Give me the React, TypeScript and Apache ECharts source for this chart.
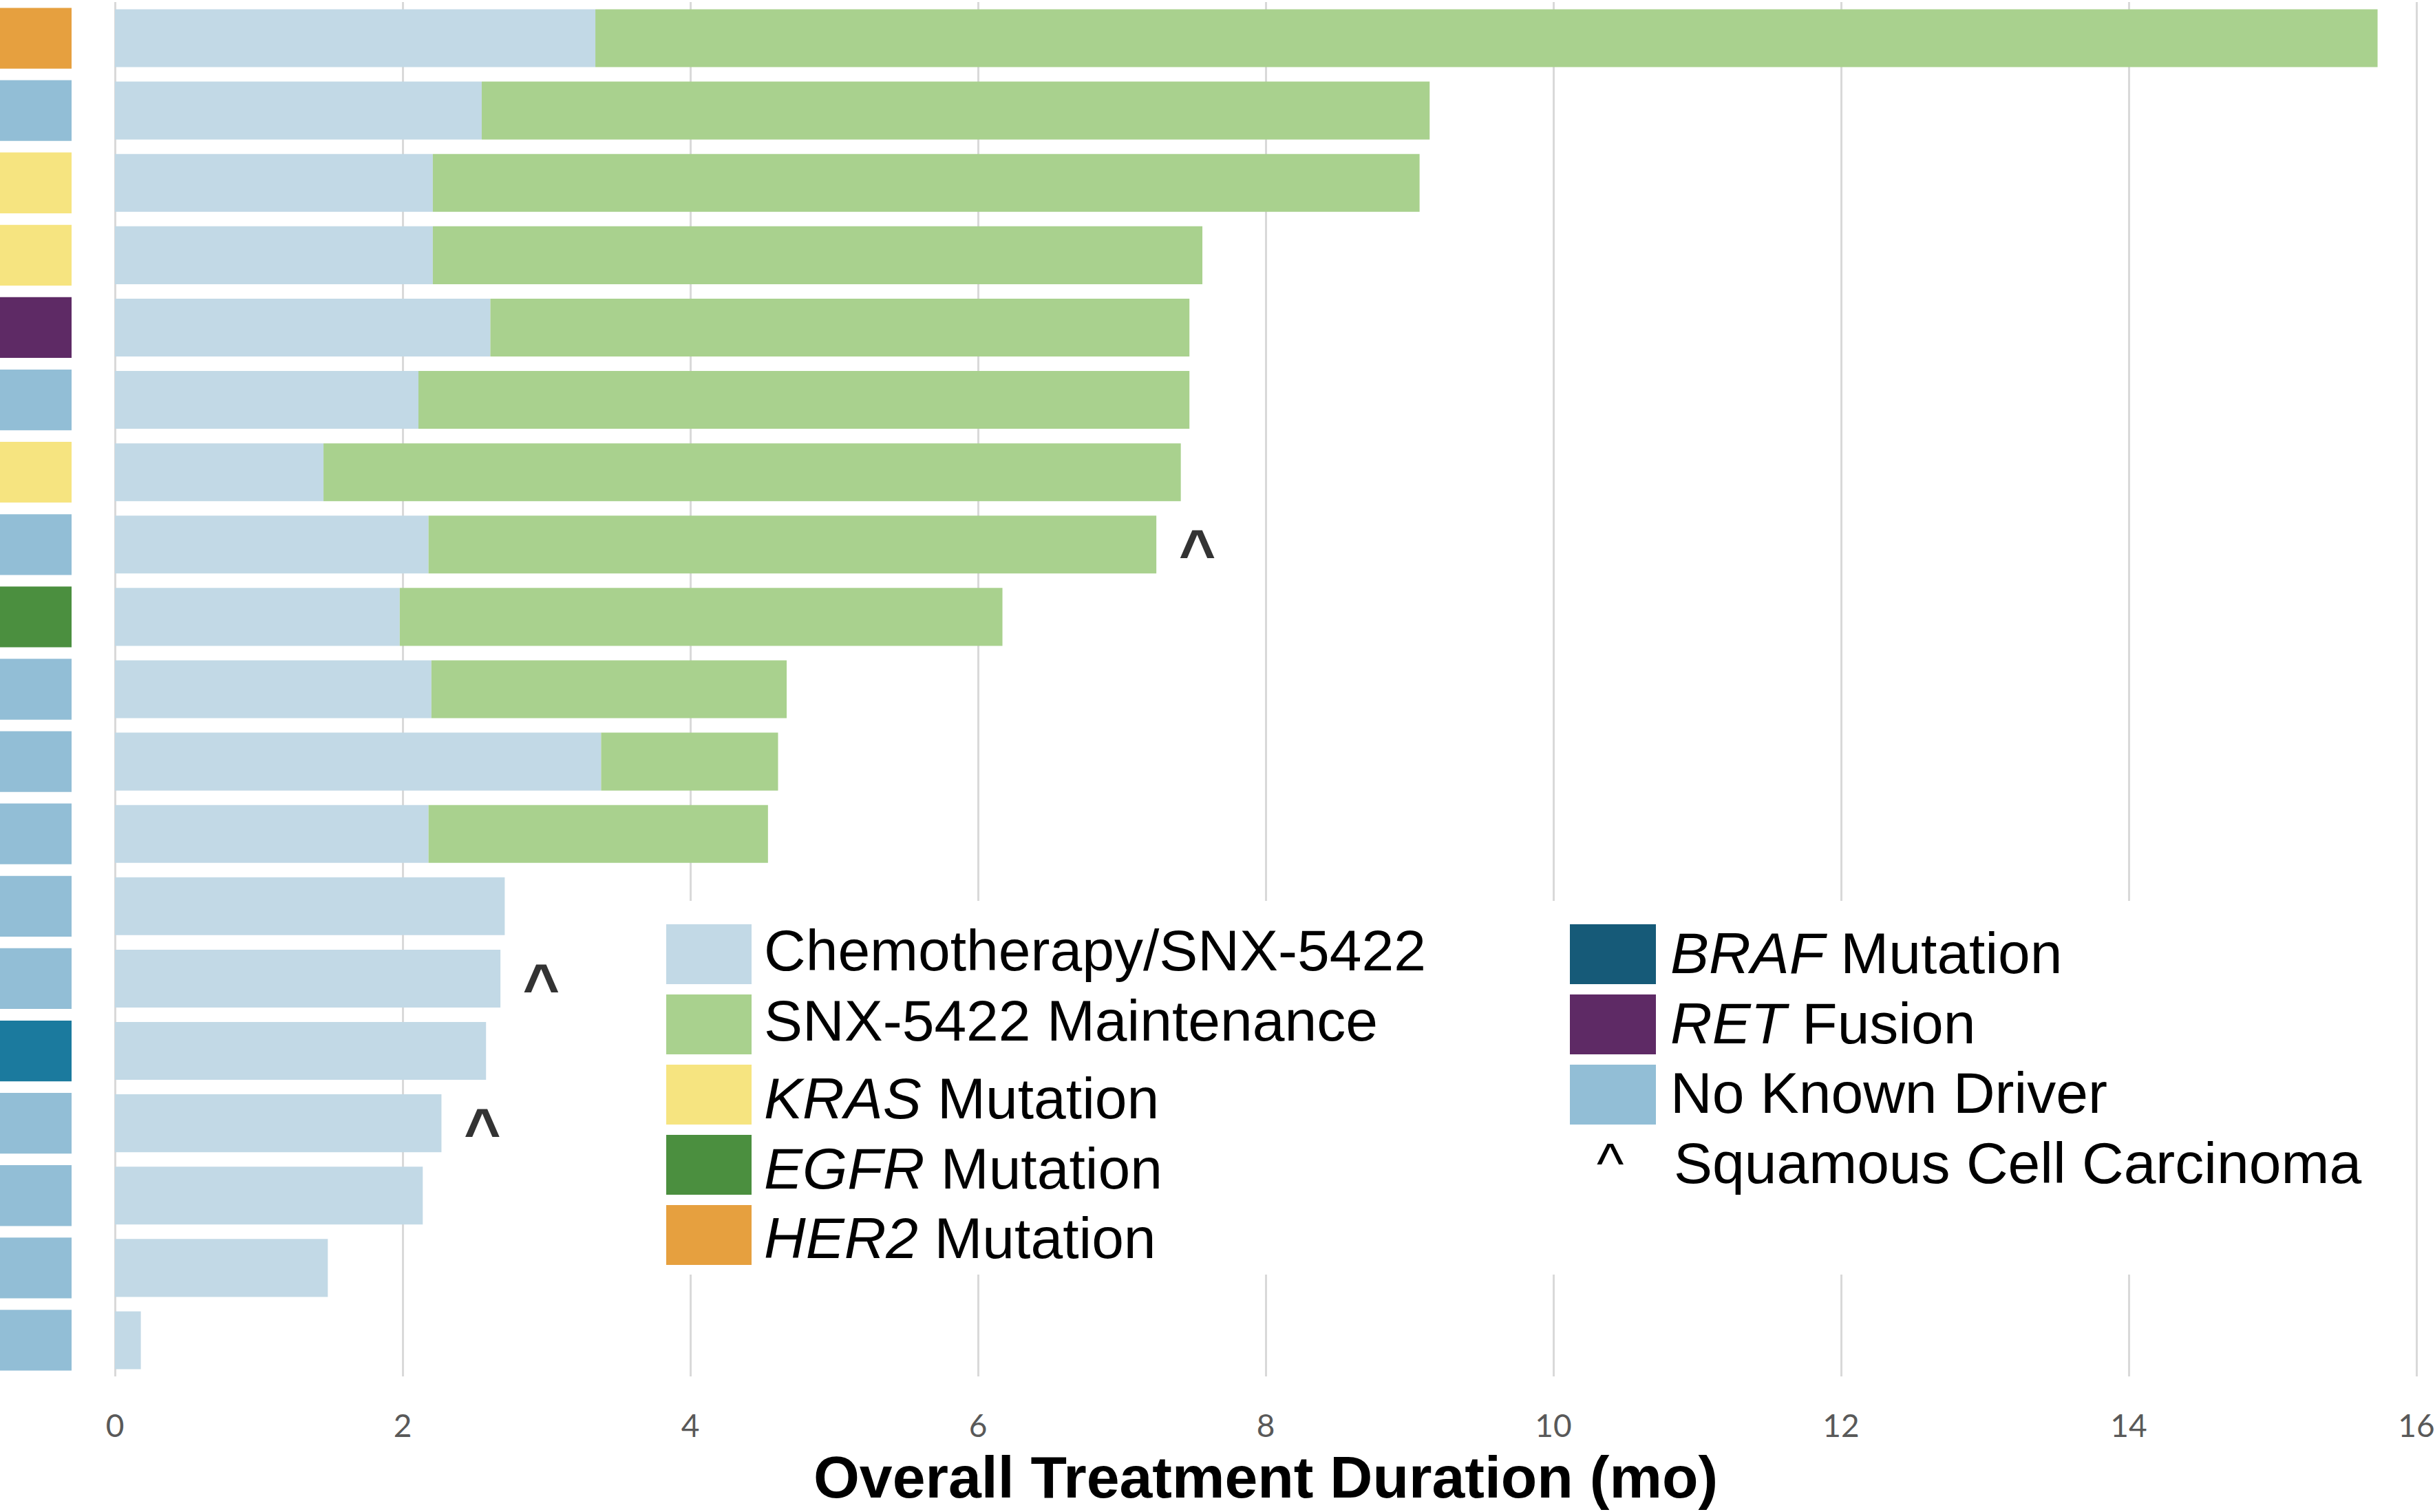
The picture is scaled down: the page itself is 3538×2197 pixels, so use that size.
import React, { useEffect, useRef } from 'react';
import * as echarts from 'echarts';

const W = 3538;
const H = 2197;

// ---- data (top row first) ----
const patients = [
  'Pt 1', 'Pt 2', 'Pt 3', 'Pt 4', 'Pt 5', 'Pt 6', 'Pt 7', 'Pt 8', 'Pt 9', 'Pt 10',
  'Pt 11', 'Pt 12', 'Pt 13', 'Pt 14', 'Pt 15', 'Pt 16', 'Pt 17', 'Pt 18', 'Pt 19',
];
const chemoMonths = [
  3.34, 2.55, 2.21, 2.21, 2.61, 2.11, 1.45, 2.18, 1.98, 2.2,
  3.38, 2.18, 2.71, 2.68, 2.58, 2.27, 2.14, 1.48, 0.18,
];
const maintenanceMonths = [
  12.39, 6.59, 6.86, 5.35, 4.86, 5.36, 5.96, 5.06, 4.19, 2.47,
  1.23, 2.36, 0, 0, 0, 0, 0, 0, 0,
];
const driverByPatient = [
  'HER2', 'None', 'KRAS', 'KRAS', 'RET', 'None', 'KRAS', 'None', 'EGFR', 'None',
  'None', 'None', 'None', 'None', 'BRAF', 'None', 'None', 'None', 'None',
];
const squamousPatients = ['Pt 8', 'Pt 14', 'Pt 16'];

const seriesNames = ['Chemotherapy/SNX-5422', 'SNX-5422 Maintenance'];
const axisTitle = 'Overall Treatment Duration (mo)';

// legend entries: [colorKey, italic gene, plain text]
const legendCol1 = [
  ['chemo', '', 'Chemotherapy/SNX-5422'],
  ['maint', '', 'SNX-5422 Maintenance'],
  ['KRAS', 'KRAS', ' Mutation'],
  ['EGFR', 'EGFR', ' Mutation'],
  ['HER2', 'HER2', ' Mutation'],
];
const legendCol2 = [
  ['BRAFLegend', 'BRAF', ' Mutation'],
  ['RET', 'RET', ' Fusion'],
  ['None', '', 'No Known Driver'],
];
const squamousLegend = 'Squamous Cell Carcinoma';

// ---- styles / layout ----
const COLORS: Record<string, string> = {
  chemo: '#C2D9E6',
  maint: '#A9D18E',
  HER2: '#E6A03F',
  KRAS: '#F6E480',
  EGFR: '#4B8F3F',
  BRAF: '#1B7A9E',
  BRAFLegend: '#165A78',
  RET: '#5E2A65',
  None: '#92BED6',
};
const LEGEND_FONT = 'Liberation Sans, Arial, sans-serif';
const AXIS_FONT = 'Lato, sans-serif';
const col1TextY = [1381, 1483, 1596, 1698, 1799];
const col2TextY = [1385, 1487, 1588, 1690];

export default function App() {
  const ref = useRef<HTMLDivElement>(null);

  useEffect(() => {
    if (!ref.current) return;
    const chart = echarts.init(ref.current, undefined, { renderer: 'svg' });

    const totals = chemoMonths.map((c, i) => c + maintenanceMonths[i]);
    const squamousData = squamousPatients.map((p) => [totals[patients.indexOf(p)], p]);

    const graphic: any[] = [];
    graphic.push({
      type: 'rect',
      z: 50,
      shape: { x: 940, y: 1309, width: 2545, height: 543 },
      style: { fill: '#ffffff' },
    });
    const rowTop0 = 1343;
    const rowStep = 102;
    const swH = 87;
    const makeText = (x: number, y: number, italic: string, plain: string) => ({
      type: 'text',
      z: 51,
      x,
      y,
      style: {
        text: (italic ? `{i|${italic}}` : '') + plain,
        fontSize: 84,
        fontFamily: LEGEND_FONT,
        fill: '#000',
        align: 'left',
        verticalAlign: 'middle',
        rich: {
          i: { fontStyle: 'italic', fontSize: 84, fontFamily: LEGEND_FONT, fill: '#000' },
        },
      },
    });
    legendCol1.forEach(([key, it, plain], k) => {
      const top = rowTop0 + k * rowStep;
      graphic.push({
        type: 'rect',
        z: 51,
        shape: { x: 968, y: top, width: 124, height: swH },
        style: { fill: COLORS[key] },
      });
      graphic.push(makeText(1110, col1TextY[k], it, plain));
    });
    legendCol2.forEach(([key, it, plain], k) => {
      const top = rowTop0 + k * rowStep;
      graphic.push({
        type: 'rect',
        z: 51,
        shape: { x: 2281, y: top, width: 125, height: swH },
        style: { fill: COLORS[key] },
      });
      graphic.push(makeText(2427, col2TextY[k], it, plain));
    });
    graphic.push(makeText(2320, col2TextY[3], '', '^'));
    graphic.push(makeText(2432, col2TextY[3], '', squamousLegend));

    const option: any = {
      animation: false,
      backgroundColor: '#ffffff',
      grid: [
        { left: 167, right: 27, top: 3, bottom: 197, containLabel: false, outerBoundsMode: 'none' },
        { left: 0, width: 104, top: 3, bottom: 197, containLabel: false, outerBoundsMode: 'none' },
      ],
      xAxis: [
        {
          type: 'value',
          gridIndex: 0,
          min: 0,
          max: 16,
          interval: 2,
          axisLine: { show: false },
          axisTick: { show: false },
          splitLine: { show: true, lineStyle: { color: '#D9D9D9', width: 3 } },
          axisLabel: {
            color: '#595959',
            fontSize: 46,
            lineHeight: 46,
            fontFamily: AXIS_FONT,
            margin: 47,
          },
          name: axisTitle,
          nameLocation: 'middle',
          nameGap: 103,
          nameTextStyle: {
            fontFamily: LEGEND_FONT,
            fontWeight: 'bold',
            fontSize: 86,
            lineHeight: 86,
            color: '#000',
          },
        },
        { type: 'value', gridIndex: 1, min: 0, max: 1, show: false },
      ],
      yAxis: [
        { type: 'category', gridIndex: 0, data: patients, inverse: true, show: false },
        { type: 'category', gridIndex: 1, data: patients, inverse: true, show: false },
      ],
      series: [
        {
          type: 'bar',
          name: seriesNames[0],
          stack: 'total',
          data: chemoMonths,
          barCategoryGap: '20%',
          itemStyle: { color: COLORS.chemo },
          z: 2,
        },
        {
          type: 'bar',
          name: seriesNames[1],
          stack: 'total',
          data: maintenanceMonths,
          barCategoryGap: '20%',
          itemStyle: { color: COLORS.maint },
          z: 2,
        },
        {
          type: 'bar',
          name: 'Driver',
          xAxisIndex: 1,
          yAxisIndex: 1,
          barCategoryGap: '16%',
          data: driverByPatient.map((d) => ({ value: 1, itemStyle: { color: COLORS[d] } })),
        },
        {
          type: 'scatter',
          name: 'Squamous',
          data: squamousData,
          symbolSize: 1,
          itemStyle: { color: 'transparent' },
          z: 5,
          label: {
            show: true,
            formatter: '^',
            position: 'right',
            distance: 32,
            offset: [0, 11],
            fontSize: 92,
            fontWeight: 'bold',
            fontFamily: LEGEND_FONT,
            color: '#000',
          },
        },
      ],
      graphic,
    };
    chart.setOption(option);
    return () => chart.dispose();
  }, []);

  return (
    <div
      ref={ref}
      style={{ position: 'absolute', left: 0, top: 0, width: W, height: H, background: '#fff' }}
    />
  );
}
